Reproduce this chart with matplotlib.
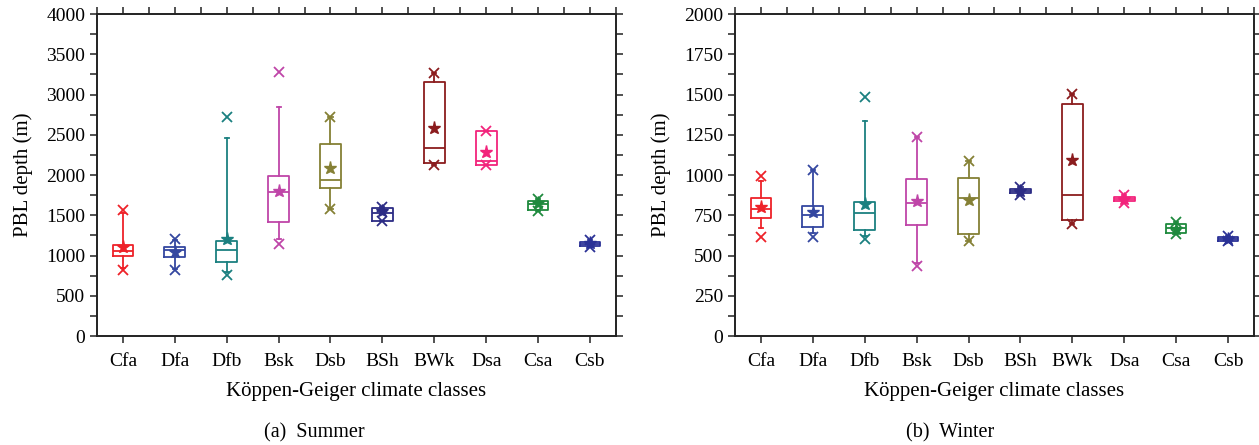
import matplotlib
matplotlib.use("Agg")
import matplotlib.pyplot as plt
from matplotlib.ticker import MultipleLocator

plt.rcParams['font.family'] = ['Liberation Serif', 'DejaVu Serif']

classes = ['Cfa', 'Dfa', 'Dfb', 'Bsk', 'Dsb', 'BSh', 'BWk', 'Dsa', 'Csa', 'Csb']
colors = ['#EE2229', '#3447A0', '#1B8080', '#BF45A8', '#858035',
          '#2C2C85', '#8B1C1E', '#F2247C', '#1F8A3E', '#2B3296']

summer_whislo = [850, 830, 790, 1209, 1578, 1425, 2128, 2128, 1557, 1110]
summer_q1 = [998, 986, 915, 1412, 1843, 1425, 2153, 2128, 1570, 1122]
summer_med = [1056, 1068, 1068, 1789, 1942, 1530, 2340, 2178, 1636, 1147]
summer_q3 = [1126, 1101, 1176, 1992, 2389, 1590, 3160, 2547, 1677, 1172]
summer_whishi = [1524, 1190, 2456, 2849, 2721, 1607, 3271, 2551, 1698, 1193]
summer_mean = [1101, 1039, 1209, 1805, 2087, 1557, 2588, 2286, 1648, 1151]
summer_min = [820, 820, 758, 1139, 1578, 1425, 2128, 2128, 1557, 1110]
summer_max = [1565, 1201, 2721, 3284, 2721, 1607, 3271, 2551, 1698, 1193]

winter_whislo = [673, 642, 620, 451, 588, 876, 693, 828, 631, 588]
winter_q1 = [735, 679, 658, 687, 635, 886, 718, 836, 640, 592]
winter_med = [787, 749, 762, 824, 859, 900, 876, 851, 669, 604]
winter_q3 = [859, 809, 834, 975, 979, 915, 1443, 863, 696, 615]
winter_whishi = [960, 1031, 1337, 1234, 1089, 923, 1505, 876, 710, 621]
winter_mean = [803, 770, 820, 836, 842, 900, 1093, 851, 662, 604]
winter_min = [613, 617, 604, 437, 588, 876, 693, 828, 631, 588]
winter_max = [996, 1031, 1484, 1234, 1089, 923, 1505, 876, 710, 621]

FS_TICK = 14
FS_LAB = 15
FS_SUB = 14.5

fig = plt.figure(figsize=(12.59, 4.45), dpi=100)
axL = fig.add_axes([0.0770, 0.2449, 0.4122, 0.7236])
axR = fig.add_axes([0.5838, 0.2449, 0.4122, 0.7236])


def draw(ax, wlo, q1, med, q3, whi, mean, mn, mx, ymax, ystep):
    for i in range(len(classes)):
        st = [dict(whislo=wlo[i], q1=q1[i], med=med[i], q3=q3[i], whishi=whi[i],
                   mean=mean[i], fliers=[mn[i], mx[i]])]
        c = colors[i]
        ax.bxp(st, positions=[i + 1], widths=0.4, capwidths=0.08,
               showmeans=True, showfliers=True,
               boxprops=dict(color=c, linewidth=1.3),
               medianprops=dict(color=c, linewidth=1.3),
               whiskerprops=dict(color=c, linewidth=1.3),
               capprops=dict(color=c, linewidth=1.3),
               meanprops=dict(marker='*', markerfacecolor=c, markeredgecolor=c,
                              markersize=9.5),
               flierprops=dict(marker='x', markeredgecolor=c, markersize=7,
                               markeredgewidth=1.3))
    ax.set_xlim(0.5, 10.5)
    ax.set_ylim(0, ymax)
    ax.set_xticks(range(1, 11))
    ax.set_xticklabels(classes, fontsize=FS_TICK)
    ax.xaxis.set_minor_locator(MultipleLocator(0.5))
    ax.yaxis.set_major_locator(MultipleLocator(ystep))
    ax.yaxis.set_minor_locator(MultipleLocator(ystep / 2))
    ax.tick_params(axis='x', which='major', direction='out', length=5, width=1.2,
                   top=True, bottom=True, labelsize=FS_TICK, pad=7, color='#333333')
    ax.tick_params(axis='x', which='minor', direction='out', length=5, width=1.2,
                   top=True, bottom=False, color='#333333')
    ax.tick_params(axis='y', which='both', direction='out', length=5, width=1.2,
                   left=True, right=True, labelsize=FS_TICK, color='#333333')
    for s in ax.spines.values():
        s.set_linewidth(1.4)
        s.set_color('#222222')
    ax.set_ylabel('PBL depth (m)', fontsize=FS_LAB)
    ax.yaxis.set_label_coords(-0.124, 0.5)
    ax.set_xlabel('Köppen-Geiger climate classes', fontsize=FS_LAB, labelpad=9)


draw(axL, summer_whislo, summer_q1, summer_med, summer_q3, summer_whishi,
     summer_mean, summer_min, summer_max, 4000, 500)
draw(axR, winter_whislo, winter_q1, winter_med, winter_q3, winter_whishi,
     winter_mean, winter_min, winter_max, 2000, 250)

fig.text(0.250, 0.028, '(a)  Summer', ha='center', va='center', fontsize=FS_SUB)
fig.text(0.755, 0.028, '(b)  Winter', ha='center', va='center', fontsize=FS_SUB)

fig.savefig('out.png', dpi=100)
